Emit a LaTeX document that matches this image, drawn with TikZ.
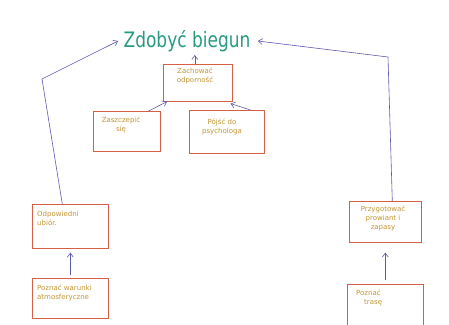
\documentclass[tikz,border=0pt]{standalone}
\usepackage{fontspec}
\setmainfont{DejaVu Sans}
\usetikzlibrary{arrows.meta}
\definecolor{boxc}{RGB}{214,96,70}
\definecolor{txtc}{RGB}{196,150,50}
\definecolor{arrc}{RGB}{95,90,175}
\definecolor{titc}{RGB}{40,155,130}
\begin{document}
\begin{tikzpicture}[x=1pt,y=-1pt,
  goal/.style={draw=boxc,line width=0.6pt,inner sep=0pt,anchor=north west},
  gtext/.style={text=txtc,font=\fontsize{7}{9}\selectfont,align=center,inner sep=0pt},
  link/.style={draw=arrc,line width=0.6pt,-{Straight Barb[length=4pt,width=6pt]}}]
\useasboundingbox (0,0) rectangle (449,324);
\fill[white] (0,0) rectangle (449,324);
\node[text=titc,font=\fontsize{17}{20}\selectfont,yscale=1.25] (title) at (187,41) {Zdobyć biegun};
\node[goal,minimum width=69pt,minimum height=37pt] (odp) at (163,64) {};
\node[gtext] (odpt) at (195,76) {Zachować\\odporność};
\node[goal,minimum width=67pt,minimum height=40pt] (szcz) at (93,111) {};
\node[gtext] (szczt) at (121,125) {Zaszczepić\\się};
\node[goal,minimum width=75pt,minimum height=43pt] (psy) at (189,110) {};
\node[gtext] (psyt) at (222,127) {Pójść do\\psychologa};
\node[goal,minimum width=76pt,minimum height=44pt] (ubior) at (32,204) {};
\node[gtext,align=left,anchor=north west] (ubiort) at (37,211) {Odpowiedni\\ubiór.};
\node[goal,minimum width=76pt,minimum height=40pt] (atm) at (32,278) {};
\node[gtext,align=left,anchor=north west] (atmt) at (37,285) {Poznać warunki\\atmosferyczne};
\node[goal,minimum width=72pt,minimum height=41pt] (prow) at (349,201) {};
\node[gtext] (prowt) at (383,218) {Przygotować\\prowiant i\\zapasy};
\node[goal,minimum width=76pt,minimum height=42pt] (trasa) at (347,284) {};
\node[gtext,align=left,anchor=north west] (trasat) at (356,290) {Poznać\\\hspace*{8pt}trasę};
\coordinate (lk) at (42,79);
\coordinate (rk) at (388,57);
\draw[link] (odp.north) ++(-3,0) -- ++(0,-9);
\draw[link] ([xshift=-12pt]szcz.north east) -- ([xshift=4pt]odp.south west);
\draw[link] ([xshift=-14pt]psy.north east) -- ([xshift=-2pt,yshift=-2pt]odp.south east);
\draw[link] ([xshift=-8pt]ubior.north) -- (lk) -- ([xshift=-2pt]title.west);
\draw[link] ([xshift=7pt]prow.north) -- (rk) -- ([xshift=4pt]title.east);
\draw[link] ([yshift=3pt]atm.north) -- ([yshift=-4pt]ubior.south);
\draw[link] ([yshift=4pt]trasa.north) -- ([yshift=-10pt]prow.south);
\end{tikzpicture}
\end{document}
